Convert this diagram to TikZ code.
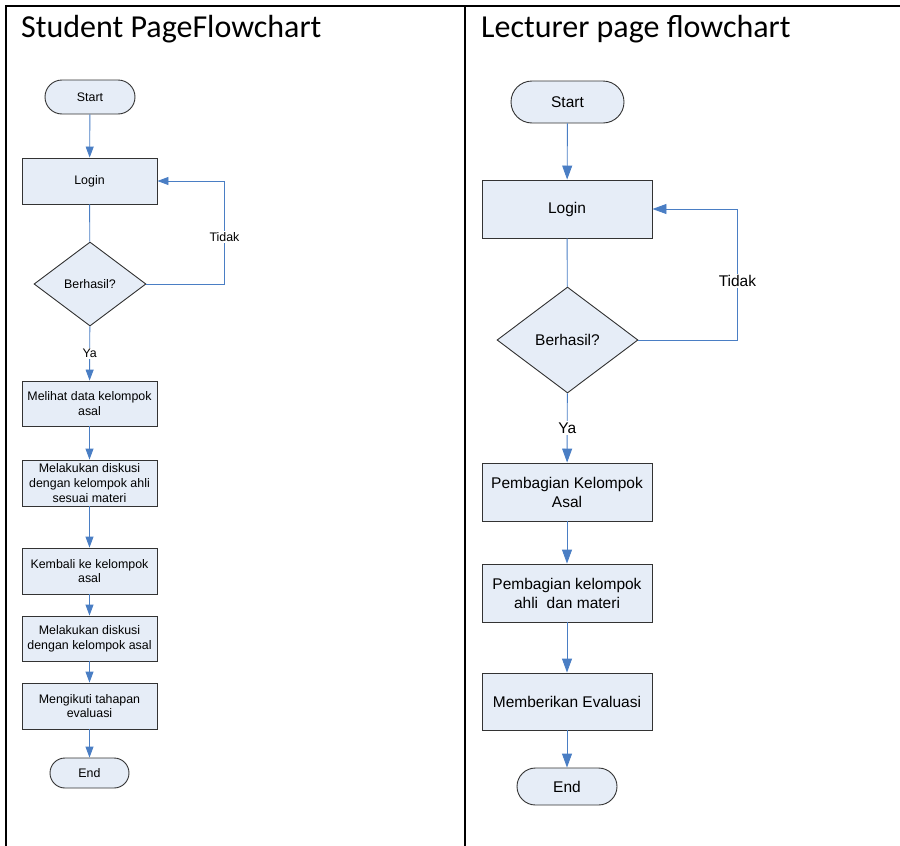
\documentclass[tikz,border=0pt]{standalone}
\usepackage{fontspec}
\setmainfont{Liberation Sans}
\newfontfamily\titlefont{Carlito}
\usetikzlibrary{arrows.meta,shapes.geometric}
\definecolor{boxfill}{RGB}{230,237,247}
\definecolor{linkblue}{RGB}{74,126,196}
\begin{document}
\begin{tikzpicture}[x=1pt,y=-1pt,
  box/.style={draw=black!80, line width=0.9pt, fill=boxfill, inner sep=0pt, align=center},
  sfont/.style={font=\fontsize{12.4}{14.8}\selectfont},
  lfont/.style={font=\fontsize{15.5}{19}\selectfont},
  sbox/.style={box, sfont, minimum width=135pt, minimum height=46pt},
  lbox/.style={box, lfont, minimum width=170pt, minimum height=58pt},
  sdia/.style={box, sfont, shape=diamond, minimum width=112pt, minimum height=84pt},
  ldia/.style={box, lfont, shape=diamond, minimum width=141pt, minimum height=106pt},
  conn/.style={draw=linkblue, line width=0.9pt},
  sarr/.style={conn, -{Triangle[length=11pt,width=8pt]}},
  larr/.style={conn, -{Triangle[length=14pt,width=10pt]}},
  slbl/.style={sfont, fill=white, inner sep=1.5pt},
  llbl/.style={lfont, fill=white, inner sep=1.5pt},
  title/.style={font=\titlefont\fontsize{32}{38}\selectfont, anchor=base west, inner sep=0pt},
  frameline/.style={draw=black, line width=2pt}
]
\useasboundingbox (0,0) rectangle (900,846);
% frame
\draw[frameline] (6,846) -- (6,6) -- (900,6);
\draw[frameline] (465,6) -- (465,846);
% titles
\node[title] (t1) at (21,37) {Student PageFlowchart};
\node[title] (t2) at (481,37) {Lecturer page flowchart};

% ---------- Student ----------
\node[box, sfont, minimum width=90pt, minimum height=34pt, rounded corners=17pt] (s0) at (90,97) {Start};
\node[sbox] (s1) at (89.5,181) {Login};
\node[sdia] (sd) at (90,284) {Berhasil?};
\node[sbox, minimum height=45pt] (s2) at (89.5,403.5) {Melihat data kelompok\\asal};
\node[sbox] (s3) at (89.5,483) {Melakukan diskusi\\dengan kelompok ahli\\sesuai materi};
\node[sbox] (s4) at (89.5,571) {Kembali ke kelompok\\asal};
\node[sbox, minimum height=45pt] (s5) at (89.5,638.5) {Melakukan diskusi\\dengan kelompok asal};
\node[sbox] (s6) at (89.5,706) {Mengikuti tahapan\\evaluasi};
\node[box, sfont, minimum width=79pt, minimum height=30pt, rounded corners=15pt] (s7) at (89.5,773) {End};

\draw[sarr] (s0) -- (s1);
\draw[conn] (s1) -- (sd);
\draw[sarr] (sd) -- node[slbl] {Ya} (s2);
\draw[sarr] (sd.east) -- ++(78,0) |- node[slbl, pos=0.23] {Tidak} (s1.east);
\draw[sarr] (s2) -- (s3);
\draw[sarr] (s3) -- (s4);
\draw[sarr] (s4) -- (s5);
\draw[sarr] (s5) -- (s6);
\draw[sarr] (s6) -- (s7);

% ---------- Lecturer ----------
\node[box, lfont, minimum width=113pt, minimum height=42pt, rounded corners=21pt] (l0) at (567.5,102) {Start};
\node[lbox] (l1) at (567,209) {Login};
\node[ldia] (ld) at (567.5,340) {Berhasil?};
\node[lbox] (l2) at (567,492) {Pembagian Kelompok\\Asal};
\node[lbox] (l3) at (567,593) {Pembagian kelompok\\ahli\ \ dan materi};
\node[lbox, minimum height=57pt] (l4) at (567,701.5) {Memberikan Evaluasi};
\node[box, lfont, minimum width=100pt, minimum height=37pt, rounded corners=18.5pt] (l5) at (567,786.5) {End};

\draw[larr] (l0) -- (l1);
\draw[conn] (l1) -- (ld);
\draw[larr] (ld) -- node[llbl] {Ya} (l2);
\draw[larr] (ld.east) -- ++(99,0) |- node[llbl, pos=0.225] {Tidak} (l1.east);
\draw[larr] (l2) -- (l3);
\draw[larr] (l3) -- (l4);
\draw[larr] (l4) -- (l5);
\end{tikzpicture}
\end{document}
